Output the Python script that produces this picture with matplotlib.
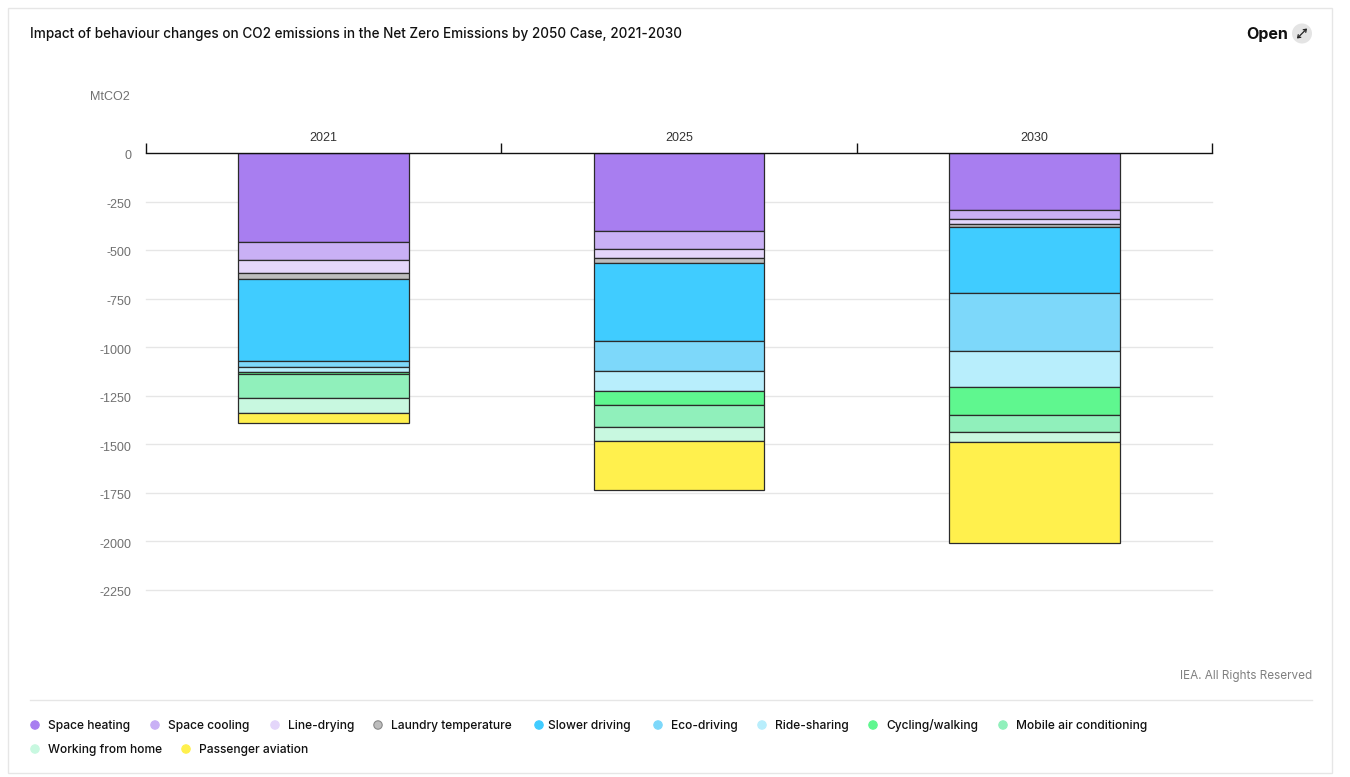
import matplotlib
matplotlib.use("Agg")
import matplotlib.pyplot as plt
from matplotlib.patches import Rectangle, Circle
from matplotlib.transforms import ScaledTranslation

plt.rcParams['font.family'] = ['Inter', 'DejaVu Sans']

# ---- data ----
years = ['2021', '2025', '2030']
space_heating = [-458, -404, -295]
space_cooling = [-93, -88, -46]
line_drying = [-67, -49, -26]
laundry_temperature = [-31, -26, -16]
slower_driving = [-424, -399, -340]
eco_driving = [-31, -154, -294]
ride_sharing = [-21, -103, -190]
cycling_walking = [-15, -75, -144]
mobile_air_conditioning = [-124, -111, -88]
working_from_home = [-77, -72, -51]
passenger_aviation = [-51, -255, -520]

series_names = ['Space heating', 'Space cooling', 'Line-drying', 'Laundry temperature',
                'Slower driving', 'Eco-driving', 'Ride-sharing', 'Cycling/walking',
                'Mobile air conditioning', 'Working from home', 'Passenger aviation']
series_values = [space_heating, space_cooling, line_drying, laundry_temperature,
                 slower_driving, eco_driving, ride_sharing, cycling_walking,
                 mobile_air_conditioning, working_from_home, passenger_aviation]
y_ticks = [0, -250, -500, -750, -1000, -1250, -1500, -1750, -2000, -2250]

# ---- style ----
colors = ['#a87ef0', '#c9b0f5', '#e4d6fa', '#bdbdbd', '#40ccff', '#7dd8fa', '#b8eefc',
          '#5ff78f', '#90f0bb', '#c8f8e0', '#fff04d']
legend_marker_x = [35, 155, 275, 378, 539, 658, 762, 873, 1003, 35, 186]
legend_text_x = [48, 168, 288, 391, 548, 671, 775, 886, 1016, 48, 199]
legend_y = [725] * 9 + [749] * 2

W, H = 1350, 777
fig = plt.figure(figsize=(W / 100, H / 100), dpi=100, facecolor='white')

# pixel-space overlay for the card furniture
bg = fig.add_axes([0, 0, 1, 1], zorder=0)
bg.set_xlim(0, W)
bg.set_ylim(H, 0)
bg.axis('off')
bg.add_patch(Rectangle((7.5, 7.5), 1324, 765, fc='white', ec='#e6e6e6', lw=1))
bg.plot([30, 1312], [699.5, 699.5], color='#e6e6e6', lw=1)
bg.text(30, 34, 'Impact of behaviour changes on CO2 emissions in the Net Zero Emissions by 2050 Case, 2021-2030',
        fontsize=9.75, fontweight='medium', color='#111111', va='center', ha='left')
bg.text(1288, 34, 'Open', fontsize=11.5, fontweight='bold', color='#111111', va='center', ha='right')
bg.add_patch(Circle((1302, 33.5), 10, fc='#e4e4e4', ec='none'))
bg.annotate('', xy=(1307, 28.5), xytext=(1297, 38.5),
            arrowprops=dict(arrowstyle='<->,head_length=0.18,head_width=0.13', color='#222222', lw=0.9,
                            shrinkA=0, shrinkB=0))
bg.text(90, 96.5, 'MtCO2', fontsize=9, family='Liberation Sans', color='#707070', va='center', ha='left')
bg.text(1312, 676.5, 'IEA. All Rights Reserved', fontsize=8.45, color='#808080', va='center', ha='right')

for name, col, mx, tx, ly in zip(series_names, colors, legend_marker_x, legend_text_x, legend_y):
    edge = '#888888' if name == 'Laundry temperature' else col
    bg.add_patch(Circle((mx, ly), 4.2, fc=col, ec=edge, lw=0.8))
    bg.text(tx, ly + 1, name, fontsize=8.65, fontweight='medium', color='#111111', va='center', ha='left')

# chart axes: 0 at y=153 px, -2250 at y=590 px
left, right, top, bottom = 146, 1212, 153, 590
ax = fig.add_axes([left / W, 1 - bottom / H, (right - left) / W, (bottom - top) / H], zorder=1)
ax.patch.set_alpha(0)
ax.set_xlim(-0.5, 2.5)
ax.set_ylim(-2250, 0)

for v in y_ticks[1:]:
    ax.axhline(v, color='#e6e6e6', lw=1, zorder=1, clip_on=False)

positions = range(len(years))
bottoms = [0] * len(years)
for vals, col in zip(series_values, colors):
    ax.bar(positions, vals, width=0.481, bottom=bottoms, color=col,
           edgecolor='#2b2b2b', linewidth=0.9, zorder=2)
    bottoms = [b + v for b, v in zip(bottoms, vals)]

for s in ['left', 'right', 'bottom']:
    ax.spines[s].set_visible(False)
ax.spines['top'].set_visible(True)
ax.spines['top'].set_color('#111111')
ax.spines['top'].set_linewidth(1)
ax.spines['top'].set_zorder(5)

ax.set_yticks(y_ticks)
ax.set_yticklabels([str(v) for v in y_ticks], fontsize=9, color='#707070', family='Liberation Sans')
ax.tick_params(axis='y', length=0, pad=10.5)
shift = ScaledTranslation(0, -1.3 / 72, fig.dpi_scale_trans)
for lab in ax.get_yticklabels():
    lab.set_transform(lab.get_transform() + shift)

ax.xaxis.tick_top()
ax.set_xticks([-0.5, 0.5, 1.5, 2.5])
ax.set_xticklabels([])
ax.tick_params(axis='x', length=7.2, width=1, color='#111111', top=True, bottom=False)
for p, y in zip(positions, years):
    ax.annotate(y, (p, 0), xytext=(0, 10.7), textcoords='offset points', family='Liberation Sans',
                ha='center', va='center', fontsize=9, color='#333333', annotation_clip=False)

fig.savefig('out.png', dpi=100, facecolor='white')
